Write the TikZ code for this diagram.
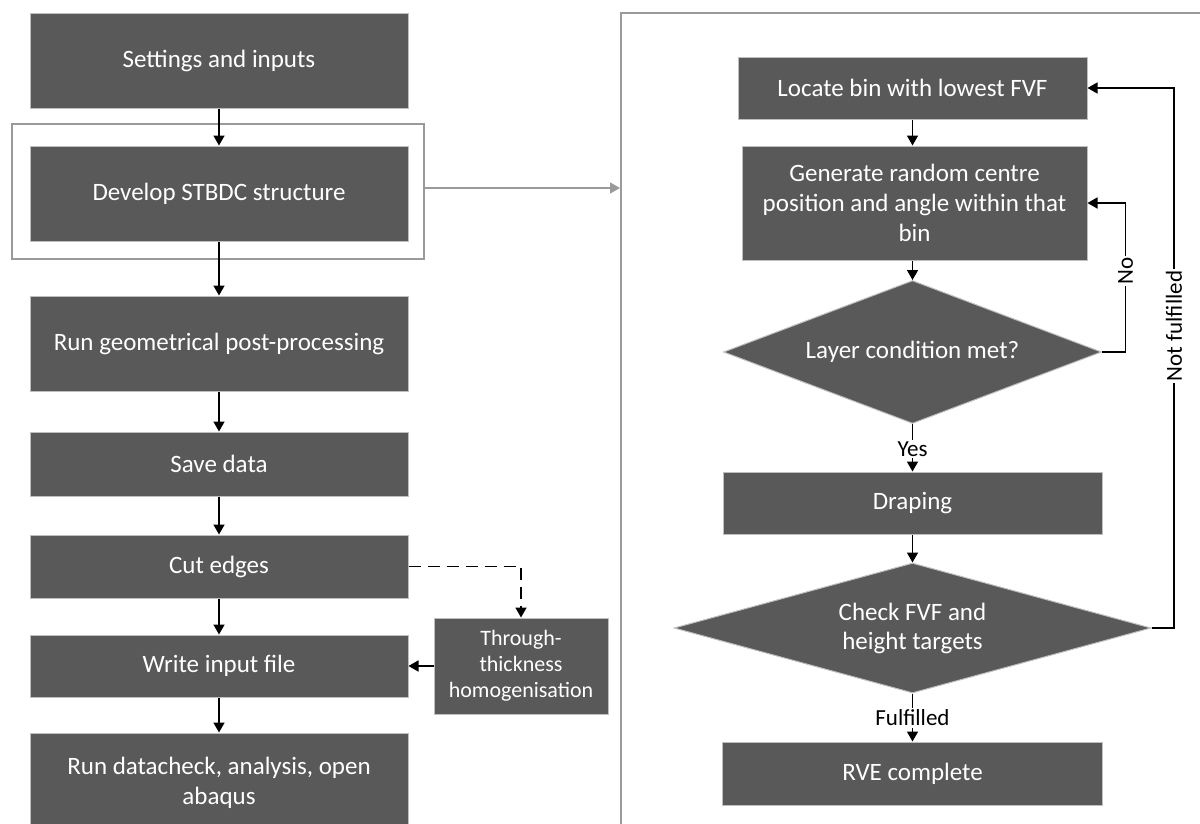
\documentclass[tikz,border=0pt]{standalone}
\usepackage{fontspec}
\setmainfont{Carlito}
\usetikzlibrary{arrows.meta,shapes.geometric}
\definecolor{boxfill}{HTML}{595959}
\definecolor{boxedge}{HTML}{BFBFBF}
\definecolor{framegrey}{HTML}{9A9A9A}
\begin{document}
\begin{tikzpicture}[x=1pt,y=-1pt,
  box/.style={rectangle, draw=boxedge, line width=1pt, fill=boxfill, text=white,
    inner sep=0pt, align=center, font=\fontsize{25}{30}\selectfont},
  smallbox/.style={box, font=\fontsize{22}{26}\selectfont},
  dia/.style={diamond, draw=boxedge, line width=1pt, fill=boxfill, text=white,
    inner sep=0pt, align=center, font=\fontsize{25}{29}\selectfont},
  frame/.style={rectangle, draw=framegrey, line width=1.5pt, inner sep=0pt},
  arr/.style={line width=1.6pt, -{Triangle[length=10pt,width=11pt]}},
  greyarr/.style={draw=framegrey, line width=1.5pt, -{Triangle[length=10pt,width=11pt]}},
  lbl/.style={fill=white, inner sep=2pt, text=black, font=\fontsize{23}{27}\selectfont}
]
\useasboundingbox (0,0) rectangle (1200,823);
\clip (0,0) rectangle (1200,823);

% frames
\node[frame, minimum width=412pt, minimum height=135pt] (devframe) at (218,191.5) {};
\node[frame, anchor=north west, minimum width=620pt, minimum height=850pt] (rframe) at (620,12) {};

% left column
\node[box, minimum width=378pt, minimum height=95pt] (set) at (219,60.5) {Settings and inputs};
\node[box, minimum width=378pt, minimum height=95pt] (dev) at (219,193.5) {Develop STBDC structure};
\node[box, minimum width=378pt, minimum height=95pt] (geo) at (219,343.5) {Run geometrical post-processing};
\node[box, minimum width=378pt, minimum height=64pt] (save) at (219,464) {Save data};
\node[box, minimum width=378pt, minimum height=63pt] (cut) at (219,566.5) {Cut edges};
\node[box, minimum width=378pt, minimum height=62pt] (write) at (219,666) {Write input file};
\node[box, minimum width=378pt, minimum height=100pt] (run) at (219,783) {Run datacheck, analysis, open\\abaqus};
\node[smallbox, minimum width=174pt, minimum height=96pt] (thr) at (521,666) {Through-\\thickness\\homogenisation};

\draw[arr] (set) -- (dev);
\draw[arr] (dev) -- (geo);
\draw[arr] (geo) -- (save);
\draw[arr] (save) -- (cut);
\draw[arr] (cut) -- (write);
\draw[arr] (write) -- (run);
\draw[arr] (thr.west) -- (write.east);
\draw[arr, dashed, dash pattern=on 12pt off 7pt] (cut.east) -| (thr.north);
\draw[greyarr] ([yshift=3.5pt]devframe.east) -- ([yshift=3.5pt]devframe.east -| rframe.west);

% right column
\node[box, minimum width=349pt, minimum height=62pt] (loc) at (912.5,88) {Locate bin with lowest FVF};
\node[box, minimum width=345pt, minimum height=114pt] (gen) at (914.5,203) {Generate random centre\\position and angle within that\\bin};
\node[dia, aspect=2.64, minimum width=378pt, minimum height=143pt] (d1) at (912.5,352) {Layer condition met?};
\node[box, minimum width=379pt, minimum height=62pt] (drp) at (912.5,503) {Draping};
\node[dia, aspect=3.67, minimum width=477pt, minimum height=130pt] (d2) at (912.5,628) {Check FVF and\\height targets};
\node[box, minimum width=380pt, minimum height=63pt] (rve) at (912.5,773.5) {RVE complete};

\coordinate (nocorner) at (1125.5,352);
\coordinate (nfcorner) at (1174,628);

\draw[arr] (loc.south) -- (loc.south |- gen.north);
\draw[arr] (gen.south -| d1.north) -- (d1.north);
\draw[arr] (d1.south) -- (drp.north);
\draw[arr] (drp.south) -- (d2.north);
\draw[arr] (d2.south) -- (rve.north);
\draw[arr] (d1.east) -- (nocorner) |- (gen.east);
\draw[arr] (d2.east) -- (nfcorner) |- (loc.east);

\node[lbl] (yes) at (912.5,449) {Yes};
\node[lbl] (ful) at (912.5,718) {Fulfilled};
\node[lbl, rotate=90] (no) at (1125.5,271) {No};
\node[lbl, rotate=90] (nf) at (1174,326) {Not fulfilled};
\end{tikzpicture}
\end{document}
